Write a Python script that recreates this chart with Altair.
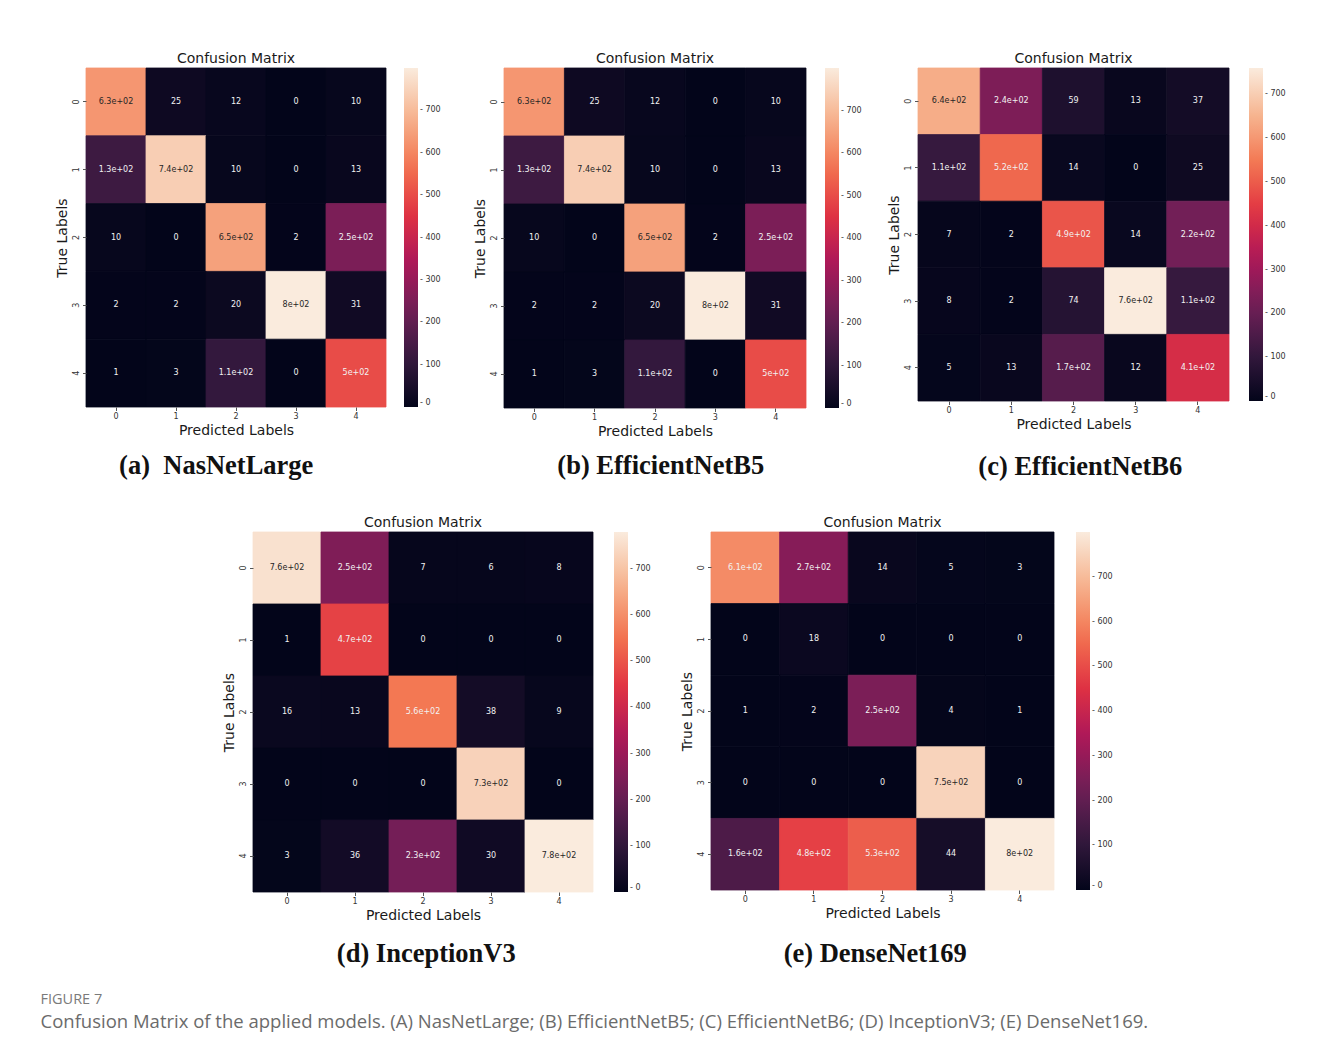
import altair as alt
import pandas as pd

CLASSES = ["0", "1", "2", "3", "4"]
TICK_VALUES = [0, 100, 200, 300, 400, 500, 600, 700]

NASNETLARGE = [
    [630, 25, 12, 0, 10],
    [130, 740, 10, 0, 13],
    [10, 0, 650, 2, 250],
    [2, 2, 20, 800, 31],
    [1, 3, 110, 0, 500],
]
EFFICIENTNETB5 = [
    [630, 25, 12, 0, 10],
    [130, 740, 10, 0, 13],
    [10, 0, 650, 2, 250],
    [2, 2, 20, 800, 31],
    [1, 3, 110, 0, 500],
]
EFFICIENTNETB6 = [
    [640, 240, 59, 13, 37],
    [110, 520, 14, 0, 25],
    [7, 2, 490, 14, 220],
    [8, 2, 74, 760, 110],
    [5, 13, 170, 12, 410],
]
INCEPTIONV3 = [
    [760, 250, 7, 6, 8],
    [1, 470, 0, 0, 0],
    [16, 13, 560, 38, 9],
    [0, 0, 0, 730, 0],
    [3, 36, 230, 30, 780],
]
DENSENET169 = [
    [610, 270, 14, 5, 3],
    [0, 18, 0, 0, 0],
    [1, 2, 250, 4, 1],
    [0, 0, 0, 750, 0],
    [160, 480, 530, 44, 800],
]

SUBCAPTIONS = [
    "(a)\u00a0 NasNetLarge",
    "(b) EfficientNetB5",
    "(c) EfficientNetB6",
    "(d) InceptionV3",
    "(e) DenseNet169",
]
CAPTION_LABEL = "FIGURE 7"
CAPTION_TEXT = ("Confusion Matrix of the applied models. (A) NasNetLarge; (B) EfficientNetB5; "
                "(C) EfficientNetB6; (D) InceptionV3; (E) DenseNet169.")

# seaborn "rocket" colormap stops
ROCKET = ["#03051a", "#35193e", "#701f57", "#ad1759",
          "#e13342", "#f37651", "#f6b48f", "#faebdd"]

MPL_FONT = "DejaVu Sans"
INDEP = dict(color="independent")


def rocket_hex(frac):
    """Colour of the rocket ramp at a fraction, used only to hide cell seams."""
    n = len(ROCKET) - 1
    pos = min(max(frac, 0.0), 1.0) * n
    k = min(int(pos), n - 1)
    t = pos - k
    a = [int(ROCKET[k][i:i + 2], 16) for i in (1, 3, 5)]
    b = [int(ROCKET[k + 1][i:i + 2], 16) for i in (1, 3, 5)]
    return "#" + "".join(f"{round(x + (y - x) * t):02x}" for x, y in zip(a, b))


def axis(title, angle):
    return alt.Axis(
        title=title, labelAngle=angle, labelFontSize=8, labelColor="#333333",
        labelFont=MPL_FONT, tickSize=3.5, tickColor="#555555", domain=False,
        grid=False, titleFont=MPL_FONT, titleFontSize=14, titleFontWeight="normal",
        titleColor="#1a1a1a", titlePadding=3, labelPadding=2,
    )


def panel(mat, subcaption, W, H, legend_offset, sub_offset, sub_dx):
    mx = max(max(r) for r in mat)
    rows = []
    for i, row in enumerate(mat):
        for j, v in enumerate(row):
            rows.append({"t": CLASSES[i], "p": CLASSES[j], "v": v,
                         "edge": rocket_hex(v / mx),
                         "lab": format(v, ".2g"), "dark": v / mx > 0.78})
    df = pd.DataFrame(rows)
    dom = [mx * k / (len(ROCKET) - 1) for k in range(len(ROCKET))]

    base = alt.Chart(df).encode(
        x=alt.X("p:O", sort=CLASSES, axis=axis("Predicted Labels", 0),
                scale=alt.Scale(paddingInner=0, paddingOuter=0)),
        y=alt.Y("t:O", sort=CLASSES, axis=axis("True Labels", 270),
                scale=alt.Scale(paddingInner=0, paddingOuter=0)),
    )
    rect = base.mark_rect(strokeWidth=0.8, stroke=alt.expr("datum.edge")).encode(
        color=alt.Color(
            "v:Q",
            scale=alt.Scale(domain=dom, range=ROCKET, interpolate="rgb"),
            legend=alt.Legend(
                title=None, values=TICK_VALUES, gradientLength=H,
                gradientThickness=14, offset=legend_offset,
                labelFontSize=8, labelColor="#333333", labelFont=MPL_FONT,
                gradientStrokeWidth=0, labelOffset=2,
                labelExpr="'- ' + datum.label",
            ),
        ),
    )
    text = base.mark_text(fontSize=8, font=MPL_FONT).encode(
        text="lab:N",
        color=alt.condition("datum.dark", alt.value("#262626"), alt.value("#f2f2f2")),
    )
    heat = (rect + text).properties(
        width=W, height=H,
        title=alt.TitleParams("Confusion Matrix", fontSize=14, font=MPL_FONT,
                              fontWeight="normal", color="#1a1a1a",
                              offset=2, anchor="middle"),
    )
    return alt.vconcat(
        heat,
        title=alt.TitleParams(subcaption, orient="bottom", anchor="middle",
                              fontSize=26.5, font="Liberation Serif",
                              fontWeight="bold", color="#111111",
                              offset=sub_offset, dx=sub_dx),
    ).resolve_scale(**INDEP)


pa = panel(NASNETLARGE, SUBCAPTIONS[0], 300, 339, 18, 15, -32)
pb = panel(EFFICIENTNETB5, SUBCAPTIONS[1], 302, 340, 19, 14, -7)
pc = panel(EFFICIENTNETB6, SUBCAPTIONS[2], 311, 333, 20, 22, -6.5)
pd_ = panel(INCEPTIONV3, SUBCAPTIONS[3], 340, 360, 21, 18, -10.5)
pe = panel(DENSENET169, SUBCAPTIONS[4], 343, 358, 22, 20, -21.5)

spacer = alt.Chart(pd.DataFrame({"s": [0]})).mark_point(opacity=0).encode(
    x=alt.value(0), y=alt.value(0)
).properties(width=136, height=10)

row1 = alt.hconcat(
    alt.hconcat(pa, pb, spacing=32).resolve_scale(**INDEP), pc, spacing=25
).resolve_scale(**INDEP)
row2 = alt.hconcat(
    spacer, alt.hconcat(pd_, pe, spacing=29).resolve_scale(**INDEP), spacing=0
).resolve_scale(**INDEP)

chart = (
    alt.vconcat(
        row1, row2, spacing=35,
        title=alt.TitleParams(
            CAPTION_LABEL, subtitle=CAPTION_TEXT, orient="bottom", anchor="start",
            font="Open Sans", fontSize=14.5, fontWeight="normal", color="#7a7a7a",
            subtitleFont="Open Sans", subtitleFontSize=18.5, subtitleColor="#6b6b6b",
            subtitlePadding=5, offset=26, dx=-15,
        ),
    )
    .resolve_scale(**INDEP)
    .properties(padding={"left": 32, "top": 43, "right": 10, "bottom": 10},
                background="white")
    .configure_view(stroke="transparent", strokeWidth=0)
)

chart.save("out.html", embed_options={"renderer": "svg", "actions": False})
